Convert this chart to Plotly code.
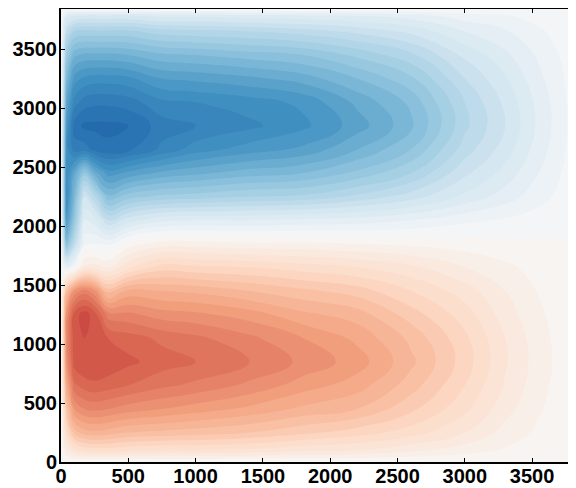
import plotly.graph_objects as go

# grid positions (km)
x_km = [0, 40, 100, 175, 250, 350, 500, 750, 1000, 1400, 1800, 2200, 2600, 3000, 3300, 3550, 3750, 3840]
y_km = [0, 100, 250, 450, 650, 850, 1050, 1250, 1450, 1650, 1850, 2050, 2250, 2450, 2650, 2850, 3050, 3250, 3450, 3650, 3780, 3840]

# field values, one list per x column (bottom -> top)
psi_x0 = [0] * 22
psi_x40 = [0, .08, .18, .28, .37, .45, .47, .45, .30, -.08, -.42, -.58, -.64, -.64, -.62, -.58, -.52, -.45, -.36, -.24, -.12, 0]
psi_x100 = [0, .14, .30, .44, .55, .62, .63, .62, .45, -.02, -.25, -.38, -.45, -.52, -.70, -.74, -.66, -.58, -.47, -.32, -.16, 0]
psi_x175 = [0, .17, .34, .48, .58, .64, .64, .66, .50, .10, -.05, -.12, -.20, -.38, -.70, -.77, -.70, -.61, -.49, -.33, -.17, 0]
psi_x250 = [0, .18, .35, .49, .59, .64, .63, .62, .45, .10, -.04, -.14, -.28, -.50, -.73, -.77, -.71, -.62, -.49, -.33, -.17, 0]
psi_x350 = [0, .18, .34, .48, .58, .63, .60, .50, .30, .08, -.05, -.24, -.43, -.58, -.75, -.77, -.71, -.62, -.49, -.33, -.17, 0]
psi_x500 = [0, .17, .32, .46, .56, .61, .58, .49, .37, .15, .02, -.18, -.38, -.55, -.73, -.76, -.70, -.61, -.48, -.33, -.17, 0]
psi_x750 = [0, .16, .31, .44, .53, .58, .55, .46, .36, .22, .06, -.13, -.35, -.51, -.67, -.70, -.65, -.56, -.45, -.30, -.15, 0]
psi_x1000 = [0, .16, .30, .42, .51, .56, .53, .45, .35, .21, .06, -.12, -.34, -.49, -.62, -.68, -.64, -.55, -.44, -.29, -.15, 0]
psi_x1400 = [0, .15, .28, .39, .47, .52, .49, .42, .32, .20, .05, -.12, -.32, -.46, -.58, -.65, -.62, -.53, -.42, -.28, -.14, 0]
psi_x1800 = [0, .13, .25, .35, .42, .47, .44, .37, .29, .18, .05, -.11, -.31, -.44, -.55, -.61, -.59, -.50, -.40, -.26, -.13, 0]
psi_x2200 = [0, .12, .22, .32, .38, .42, .39, .34, .26, .16, .04, -.10, -.27, -.39, -.48, -.54, -.51, -.44, -.35, -.23, -.12, 0]
psi_x2600 = [0, .09, .18, .25, .30, .33, .31, .26, .20, .13, .03, -.08, -.22, -.32, -.40, -.45, -.43, -.37, -.29, -.19, -.10, 0]
psi_x3000 = [0, .06, .12, .17, .20, .22, .21, .18, .14, .08, .02, -.05, -.15, -.21, -.26, -.29, -.28, -.24, -.19, -.12, -.06, 0]
psi_x3300 = [0, .035, .065, .095, .115, .125, .12, .10, .08, .05, .01, -.035, -.10, -.145, -.18, -.20, -.19, -.165, -.13, -.085, -.045, 0]
psi_x3550 = [0, .017, .032, .045, .055, .06, .056, .048, .037, .023, .006, -.02, -.055, -.079, -.099, -.11, -.106, -.09, -.072, -.047, -.024, 0]
psi_x3750 = [0, .006, .011, .015, .018, .02, .019, .016, .012, .008, .002, -.008, -.023, -.032, -.04, -.045, -.043, -.037, -.029, -.019, -.01, 0]
psi_x3840 = [0] * 22

tick_vals = [0, 500, 1000, 1500, 2000, 2500, 3000, 3500]
tick_text = ["0", "500", "1000", "1500", "2000", "2500", "3000", "3500"]

columns = [psi_x0, psi_x40, psi_x100, psi_x175, psi_x250, psi_x350, psi_x500, psi_x750,
           psi_x1000, psi_x1400, psi_x1800, psi_x2200, psi_x2600, psi_x3000, psi_x3300,
           psi_x3550, psi_x3750, psi_x3840]
z = [list(row) for row in zip(*columns)]

rdbu = [[0.0, '#053061'], [0.1, '#2166ac'], [0.2, '#4393c3'], [0.3, '#92c5de'],
        [0.4, '#d1e5f0'], [0.5, '#f7f7f7'], [0.6, '#fddbc7'], [0.7, '#f4a582'],
        [0.8, '#d6604d'], [0.9, '#b2182b'], [1.0, '#67001f']]

fig = go.Figure(go.Contour(
    x=x_km, y=y_km, z=z,
    zauto=False, zmin=-1, zmax=1, colorscale=rdbu,
    autocontour=False,
    contours=dict(start=-1.0, end=1.0, size=0.04, coloring='fill', showlines=False),
    line=dict(width=0, smoothing=1.3),
    showscale=False, hoverinfo='skip'))

font = dict(family="Liberation Sans, Arial, Helvetica, sans-serif", size=20, color="black", weight="bold")
axis_common = dict(ticks="inside", ticklen=4, tickwidth=1, tickcolor="black",
                   showline=True, linecolor="black", linewidth=2, mirror="ticks",
                   showgrid=False, zeroline=False, tickfont=font,
                   tickvals=tick_vals, ticktext=tick_text, automargin=False)

# the page body adds an 8 px offset, so the figure is sized to fill the rest of the window
fig.update_layout(
    width=568, height=480,
    margin=dict(l=53, r=0, t=1, b=26, pad=0),
    paper_bgcolor="white", plot_bgcolor="white",
    xaxis=dict(range=[0, 3826], ticklabelstandoff=-5, **axis_common),
    yaxis=dict(range=[0, 3840], ticklabelstandoff=-2, **axis_common),
)

fig.write_html("out.html")
